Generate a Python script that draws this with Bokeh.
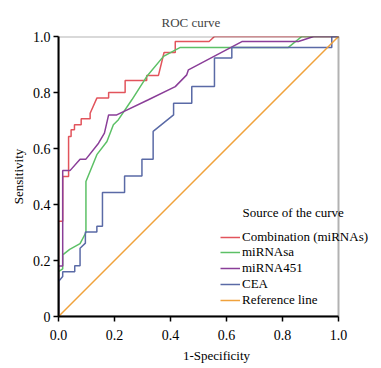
from bokeh.plotting import figure
from bokeh.models import Range1d, Legend, LegendItem, Label, BoxAnnotation
from bokeh.embed import file_html
from bokeh.resources import INLINE

# ---- data ----
combo_x = [0, 0, 0.015, 0.015, 0.036, 0.036, 0.045, 0.045, 0.057, 0.057, 0.081, 0.081, 0.113, 0.113,
           0.137, 0.179, 0.179, 0.238, 0.238, 0.315, 0.315, 0.357, 0.377, 0.417, 0.417, 0.538, 0.557, 1.0]
combo_y = [0, 0.34, 0.34, 0.50, 0.50, 0.643, 0.643, 0.667, 0.667, 0.685, 0.685, 0.706, 0.706, 0.726,
           0.78, 0.78, 0.80, 0.80, 0.843, 0.843, 0.861, 0.861, 0.943, 0.943, 0.982, 0.982, 1.0, 1.0]

mirsa_x = [0, 0, 0.015, 0.015, 0.04, 0.077, 0.098, 0.098, 0.137, 0.173, 0.196, 0.214, 0.262, 0.315,
           0.375, 0.435, 0.821, 0.869, 1.0]
mirsa_y = [0, 0.16, 0.17, 0.22, 0.24, 0.26, 0.30, 0.482, 0.578, 0.625, 0.685, 0.703, 0.774, 0.857,
           0.929, 0.961, 0.961, 1.0, 1.0]

mir451_x = [0, 0, 0.015, 0.015, 0.041, 0.077, 0.098, 0.143, 0.164, 0.179, 0.208, 0.321, 0.417, 0.458,
            0.464, 0.655, 0.857, 0.911, 1.0]
mir451_y = [0, 0.18, 0.18, 0.521, 0.521, 0.562, 0.562, 0.619, 0.655, 0.72, 0.72, 0.774, 0.821, 0.863,
            0.881, 0.982, 0.982, 1.0, 1.0]

cea_x = [0, 0, 0.015, 0.015, 0.058, 0.058, 0.077, 0.077, 0.096, 0.096, 0.137, 0.137, 0.157, 0.157,
         0.236, 0.236, 0.298, 0.298, 0.338, 0.338, 0.411, 0.411, 0.476, 0.476, 0.557, 0.557, 0.619,
         0.619, 0.976, 0.976, 1.0]
cea_y = [0, 0.125, 0.143, 0.16, 0.16, 0.181, 0.181, 0.244, 0.262, 0.302, 0.302, 0.322, 0.322, 0.443,
         0.443, 0.502, 0.502, 0.562, 0.562, 0.661, 0.72, 0.762, 0.762, 0.821, 0.821, 0.923, 0.923,
         0.961, 0.961, 1.0, 1.0]

ref_x = [0, 1]
ref_y = [0, 1]

series_names = ["Combination (miRNAs)", "miRNAsa", "miRNA451", "CEA", "Reference line"]
series_colors = ["#e2545c", "#5cc066", "#8a3e98", "#5a6aa6", "#f0a23c"]
x_ticks = [0, 0.2, 0.4, 0.6, 0.8, 1.0]
x_tick_labels = ["0.0", "0.2", "0.4", "0.6", "0.8", "1.0"]
y_ticks = [0, 0.2, 0.4, 0.6, 0.8, 1.0]
y_tick_labels = ["0", "0.2", "0.4", "0.6", "0.8", "1.0"]

FONT = "Liberation Serif"
FRAME_W, FRAME_H = 316, 280          # plot box is 280 px per unit; extra room on the right for the legend
X_END = FRAME_W / FRAME_H

p = figure(frame_width=FRAME_W, frame_height=FRAME_H, output_backend="svg", toolbar_location=None,
           x_range=Range1d(0, X_END), y_range=Range1d(0, 1),
           min_border_left=58, min_border_right=0, min_border_top=36, min_border_bottom=47)

p.title.text = "ROC curve"
p.title.align = "left"
p.title.text_font = FONT
p.title.text_font_size = "13px"
p.title.text_font_style = "normal"
p.title.offset = 103
p.title.standoff = 13

p.grid.visible = False
p.outline_line_color = None
p.add_layout(BoxAnnotation(left=0, right=1, bottom=0, top=1, fill_alpha=0,
                           line_color="black", line_width=2))

for ax, ticks, labels in ((p.xaxis, x_ticks, x_tick_labels), (p.yaxis, y_ticks, y_tick_labels)):
    ax.ticker = ticks
    ax.bounds = (0, 1)
    ax.major_label_overrides = {t: l for t, l in zip(ticks, labels)}
    ax.minor_tick_line_color = None
    ax.major_tick_out = 5
    ax.major_tick_in = 0
    ax.axis_line_width = 2
    ax.axis_line_color = "black"
    ax.major_tick_line_color = "black"
    ax.major_tick_line_width = 1.5
    ax.major_label_text_font = FONT
    ax.major_label_text_font_size = "14px"
    ax.major_label_text_color = "black"
    ax.axis_label_text_font = FONT
    ax.axis_label_text_font_size = "13px"
    ax.axis_label_text_font_style = "normal"
    ax.axis_label_text_color = "black"

p.xaxis.axis_label = "1-Specificity"
p.yaxis.axis_label = "Sensitivity"
p.xaxis.major_label_standoff = 8
p.xaxis.axis_label_standoff = 5
p.yaxis.major_label_standoff = 3
p.yaxis.axis_label_standoff = 4

xs = [combo_x, mirsa_x, mir451_x, cea_x, ref_x]
ys = [combo_y, mirsa_y, mir451_y, cea_y, ref_y]
renderers = []
for x, y, c in zip(xs, ys, series_colors):
    renderers.append(p.line(x, y, line_color=c, line_width=1.5))

common = dict(background_fill_alpha=0, border_line_alpha=0, padding=0, margin=0, spacing=0,
              glyph_width=20, glyph_height=14, label_height=14, label_standoff=2,
              label_text_font=FONT, label_text_font_size="13px", label_text_color="black",
              label_text_line_height=1.0)

leg1 = Legend(items=[LegendItem(label=series_names[0], renderers=[renderers[0]])],
              location=(162, 71), **common)
leg2 = Legend(items=[LegendItem(label=n, renderers=[r]) for n, r in zip(series_names[1:], renderers[1:])],
              location=(162, 8), **common)
p.add_layout(leg1)
p.add_layout(leg2)

p.add_layout(Label(x=0.657, y=0.370, text="Source of the curve", text_font=FONT,
                   text_font_size="13px", text_baseline="middle", text_color="black"))

open("out.html", "w").write(file_html(p, INLINE))
